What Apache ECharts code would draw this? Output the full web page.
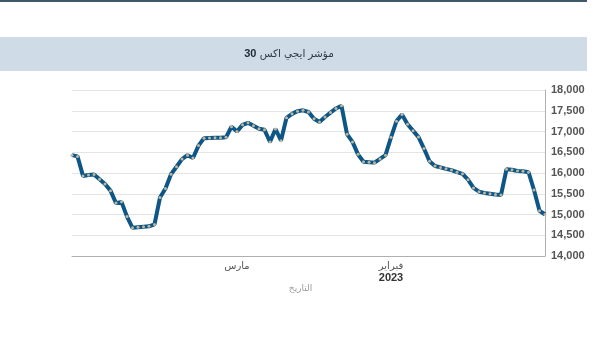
<!DOCTYPE html>
<html>
<head>
<meta charset="utf-8">
<script src="https://cdn.jsdelivr.net/npm/echarts@6/dist/echarts.min.js"></script>
<style>html,body{margin:0;padding:0;background:#fff;}#c{width:600px;height:338px;}</style>
</head>
<body>
<div id="c"></div>
<script>
const titleNumber = '30';
const titleText = 'مؤشر ايجي اكس';
const axisTitle = 'التاريخ';
const monthLabels = {1: 'فبراير', 2: 'مارس'};
const yearLabel = '2023';
const yTicks = {min: 14000, max: 18000, step: 500};

const dates = [
 '2023-01-04','2023-01-05','2023-01-06','2023-01-07','2023-01-08','2023-01-09','2023-01-10','2023-01-11','2023-01-12','2023-01-13',
 '2023-01-14','2023-01-15','2023-01-16','2023-01-17','2023-01-18','2023-01-19','2023-01-20','2023-01-21','2023-01-22','2023-01-23',
 '2023-01-24','2023-01-25','2023-01-26','2023-01-27','2023-01-28','2023-01-29','2023-01-30','2023-01-31','2023-02-01','2023-02-02',
 '2023-02-03','2023-02-04','2023-02-05','2023-02-06','2023-02-07','2023-02-08','2023-02-09','2023-02-10','2023-02-11','2023-02-12',
 '2023-02-13','2023-02-14','2023-02-15','2023-02-16','2023-02-17','2023-02-18','2023-02-19','2023-02-20','2023-02-21','2023-02-22',
 '2023-02-23','2023-02-24','2023-02-25','2023-02-26','2023-02-27','2023-02-28','2023-03-01','2023-03-02','2023-03-03','2023-03-04',
 '2023-03-05','2023-03-06','2023-03-07','2023-03-08','2023-03-09','2023-03-10','2023-03-11','2023-03-12','2023-03-13','2023-03-14',
 '2023-03-15','2023-03-16','2023-03-17','2023-03-18','2023-03-19','2023-03-20','2023-03-21','2023-03-22','2023-03-23','2023-03-24',
 '2023-03-25','2023-03-26','2023-03-27','2023-03-28','2023-03-29','2023-03-30','2023-03-31'
];
const values = [
 15000,15090,15590,16020,16040,16050,16080,16090,15470,15480,
 15500,15520,15550,15640,15840,15980,16020,16070,16100,16135,
 16170,16285,16590,16865,17020,17175,17410,17250,16860,16430,
 16340,16250,16260,16270,16450,16750,16935,17620,17555,17455,
 17350,17230,17305,17470,17510,17490,17425,17330,16780,17060,
 16750,17040,17065,17140,17210,17160,17000,17115,16860,16850,
 16850,16845,16840,16660,16360,16430,16335,16150,15970,15625,
 15410,14760,14715,14705,14695,14680,14950,15305,15275,15575,
 15735,15850,15965,15950,15930,16400,16430
];

const seriesData = dates.map((d, i) => [d, values[i]]);
const chart = echarts.init(document.getElementById('c'), null, {renderer: 'canvas'});
const FONT = 'Arial, "Liberation Sans", "DejaVu Sans", sans-serif';

chart.setOption({
  animation: false,
  backgroundColor: '#ffffff',
  textStyle: {fontFamily: FONT},
  graphic: [
    {type: 'rect', shape: {x: 0, y: 0, width: 587, height: 2}, style: {fill: '#3f5a68'}, silent: true},
    {type: 'rect', shape: {x: 0, y: 37, width: 587, height: 34}, style: {fill: '#cfdce7'}, silent: true},
    {type: 'text', x: 289, y: 54, silent: true,
     style: {
       text: '{b|' + titleNumber + '} {n|' + titleText + '}',
       align: 'center', verticalAlign: 'middle',
       rich: {
         b: {fontFamily: FONT, fontSize: 11, fontWeight: 'bold', fill: '#1e2a33'},
         n: {fontFamily: FONT, fontSize: 10.5, fill: '#2a3a46'}
       }
     }}
  ],
  grid: {left: 72, right: 55, top: 90, bottom: 82, containLabel: false},
  xAxis: {
    type: 'time',
    inverse: true,
    min: 'dataMin',
    max: 'dataMax',
    splitNumber: 3,
    name: axisTitle,
    nameLocation: 'middle',
    nameGap: 17,
    nameTextStyle: {color: '#9a9a9a', fontSize: 9, fontFamily: FONT, padding: [0, 16, 0, 0]},
    axisLine: {show: true, lineStyle: {color: '#b0b0b0', width: 1}},
    axisTick: {show: false},
    splitLine: {show: false},
    axisLabel: {
      show: true,
      showMinLabel: false,
      showMaxLabel: false,
      margin: 4,
      color: '#555',
      fontSize: 10,
      lineHeight: 12,
      verticalAlign: 'top',
      formatter: function (val) {
        const d = new Date(val);
        if (d.getDate() !== 1) return '';
        const m = d.getMonth();
        if (m === 1) return monthLabels[1] + '\n{y|' + yearLabel + '}';
        if (m === 2) return monthLabels[2];
        return '';
      },
      rich: {y: {fontSize: 11, fontWeight: 'bold', color: '#333', lineHeight: 11, fontFamily: FONT}}
    }
  },
  yAxis: {
    type: 'value',
    position: 'right',
    min: yTicks.min,
    max: yTicks.max,
    interval: yTicks.step,
    axisLine: {show: true, lineStyle: {color: '#b0b0b0', width: 1}},
    axisTick: {show: false},
    splitLine: {show: true, lineStyle: {color: '#e4e4e4', width: 1}},
    axisLabel: {
      margin: 6,
      color: '#555',
      fontSize: 11,
      fontWeight: 'bold',
      fontFamily: FONT,
      formatter: v => v.toLocaleString('en-US')
    }
  },
  series: [{
    type: 'line',
    data: seriesData,
    symbol: 'circle',
    symbolSize: 3,
    showSymbol: true,
    showAllSymbol: true,
    itemStyle: {color: '#bdb79f'},
    lineStyle: {color: '#0e5686', width: 4},
    z: 3
  }]
});
</script>
</body>
</html>
